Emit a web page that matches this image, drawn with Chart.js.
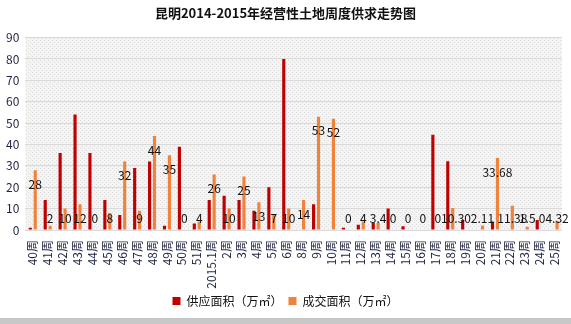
<!DOCTYPE html>
<html>
<head>
<meta charset="utf-8">
<script src="https://cdn.jsdelivr.net/npm/chart.js@4"></script>
<style>
  html, body { margin: 0; padding: 0; background: #c8c8c8; }
  #wrap { width: 571px; height: 318px; background: #fff; position: relative; }
</style>
</head>
<body>
<div id="wrap"><canvas id="land-chart"></canvas></div>
<script>
var weeks = ['40周', '41周', '42周', '43周', '44周', '45周', '46周', '47周', '48周', '49周', '50周', '51周',
    '2015.1周', '2周', '3周', '4周', '5周', '6周', '8周', '9周', '10周', '11周', '12周', '13周', '14周', '15周',
    '16周', '17周', '18周', '19周', '20周', '21周', '22周', '23周', '24周', '25周'];
var supply = [1, 14, 36, 54, 36, 14, 7, 29, 32, 2, 39, 3,
    14, 16, 14, 9, 20, 80, 0, 12, 0, 1, 2.5, 3.4, 10, 1.7,
    0, 44.5, 32.2, 4.7, 0, 4, 0, 0, 4.7, 0];
var deals = [28, 2, 10, 12, 0, 8, 32, 9, 44, 35, 0, 4,
    26, 10, 25, 13, 7, 10, 14, 53, 52, 0, 4, 3.4, 0, 0,
    0, 0, 10.3, 0, 2.11, 33.68, 11.38, 1.5, 0, 4.32];
var yTicks = [0, 10, 20, 30, 40, 50, 60, 70, 80, 90];

var fontFamily = '"Noto Sans CJK SC", "DejaVu Sans", sans-serif';

// dotted grey fill behind the plot, like the excel texture
function makePattern() {
    var p = document.createElement('canvas');
    p.width = 4; p.height = 4;
    var c = p.getContext('2d');
    c.fillStyle = '#f4f4f4';
    c.fillRect(0, 0, 4, 4);
    c.fillStyle = '#dcdcdc';
    c.fillRect(0, 0, 1, 1);
    c.fillRect(2, 2, 1, 1);
    return c.createPattern(p, 'repeat');
}

var plotBg = {
    id: 'plotBg',
    beforeDraw: function(chart) {
        var a = chart.chartArea, ctx = chart.ctx;
        ctx.save();
        ctx.fillStyle = makePattern();
        ctx.fillRect(a.left, a.top, a.right - a.left, a.bottom - a.top);
        ctx.restore();
    }
};

// value labels for the deals series only
var dealLabels = {
    id: 'dealLabels',
    afterDatasetsDraw: function(chart) {
        var ctx = chart.ctx;
        var meta = chart.getDatasetMeta(1);
        var y = chart.scales.y;
        var base = y.getPixelForValue(0);
        ctx.save();
        ctx.font = '12px ' + fontFamily;
        ctx.fillStyle = '#111';
        ctx.textAlign = 'center';
        ctx.textBaseline = 'middle';
        meta.data.forEach(function(bar, i) {
            var ly = Math.min(bar.y + 14, base - 12);
            ctx.fillText(String(deals[i]), bar.x, ly);
        });
        ctx.restore();
    }
};

var ctx = document.getElementById('land-chart').getContext('2d');

var chart = new Chart(ctx, {
    type: 'bar',
    data: {
        labels: weeks,
        datasets: [{
            label: '供应面积（万㎡）',
            backgroundColor: '#c00000',
            data: supply,
            categoryPercentage: 0.66,
            barPercentage: 0.64
        }, {
            label: '成交面积（万㎡）',
            backgroundColor: '#f0823a',
            data: deals,
            categoryPercentage: 0.66,
            barPercentage: 0.64
        }]
    },
    options: {
        responsive: true,
        maintainAspectRatio: false,
        animation: false,
        layout: { padding: { left: 0, right: 0, top: 5, bottom: 1 } },
        plugins: {
            title: {
                display: true,
                text: '昆明2014-2015年经营性土地周度供求走势图',
                color: '#111',
                font: { family: fontFamily, size: 13, weight: 'bold' },
                padding: { top: 0, bottom: 17 }
            },
            legend: {
                position: 'bottom',
                labels: {
                    boxWidth: 8,
                    boxHeight: 8,
                    color: '#111',
                    padding: 6,
                    font: { family: fontFamily, size: 12 }
                }
            },
            tooltip: { enabled: false }
        },
        scales: {
            x: {
                grid: { display: false },
                border: { display: false },
                afterFit: function(axis) { axis.height = 59; },
                ticks: {
                    autoSkip: false,
                    maxRotation: 90,
                    minRotation: 90,
                    color: '#1f2440',
                    padding: 2,
                    font: { family: fontFamily, size: 12 }
                }
            },
            y: {
                min: 0,
                max: 90,
                afterBuildTicks: function(axis) {
                    axis.ticks = yTicks.map(function(v) { return { value: v }; });
                },
                grid: { color: '#d9d9d9', drawTicks: false },
                border: { display: false },
                ticks: {
                    color: '#1f2440',
                    padding: 6,
                    font: { family: fontFamily, size: 12 }
                }
            }
        }
    },
    plugins: [plotBg, dealLabels]
});
</script>
</body>
</html>
